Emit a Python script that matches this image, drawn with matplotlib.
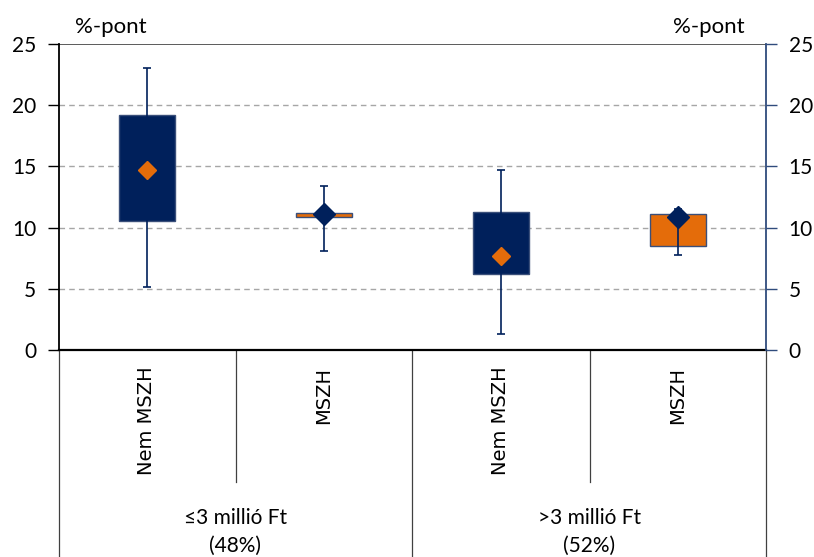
import matplotlib
matplotlib.use("Agg")
import matplotlib.pyplot as plt
import matplotlib.transforms as mtransforms


NAVY = "#00205B"
ORANGE = "#E46C0A"
GRID = "#A6A6A6"

CATEGORIES = ["Nem MSZH", "MSZH", "Nem MSZH", "MSZH"]
GROUPS = ["≤3 millió Ft\n(48%)", ">3 millió Ft\n(52%)"]
WHISKER_LOW = [5.15, 8.1, 1.3, 7.75]
BOX_LOW = [10.55, 10.85, 6.2, 8.5]
BOX_HIGH = [19.2, 11.2, 11.25, 11.1]
WHISKER_HIGH = [23.0, 13.4, 14.7, 11.55]
MEANS = [14.7, 11.1, 7.7, 10.9]
BOX_COLORS = [NAVY, ORANGE, NAVY, ORANGE]
MEAN_COLORS = [ORANGE, NAVY, ORANGE, NAVY]
Y_TICKS = [0, 5, 10, 15, 20, 25]

plt.rcParams["font.family"] = ["Lato", "DejaVu Sans"]

fig = plt.figure(figsize=(8.14, 5.57), dpi=100)
ax = fig.add_axes([58.5 / 814, 1 - 350 / 557, 708 / 814, 306 / 557])

x = list(range(len(CATEGORIES)))
ax.set_xlim(-0.5, len(CATEGORIES) - 0.5)
ax.set_ylim(0, 25)

for yv in Y_TICKS[1:-1]:
    ax.axhline(yv, color=GRID, linestyle=(0, (4, 3)), linewidth=1.0, zorder=0)
ax.axhline(25, color="#404040", linewidth=1.2, zorder=1)

for i in x:
    ax.bar(i, BOX_HIGH[i] - BOX_LOW[i], bottom=BOX_LOW[i], width=0.32,
           color=BOX_COLORS[i], edgecolor="#3A4F7A", linewidth=1.0, zorder=2)
    ax.vlines(i, WHISKER_LOW[i], WHISKER_HIGH[i], color=NAVY, linewidth=1.2, zorder=3)
    ax.hlines([WHISKER_LOW[i], WHISKER_HIGH[i]], i - 0.025, i + 0.025,
              color=NAVY, linewidth=1.2, zorder=3)
    ax.plot(i, MEANS[i], marker="D", markersize=9 if BOX_COLORS[i] == NAVY else 11,
            color=MEAN_COLORS[i], markeredgecolor=MEAN_COLORS[i], zorder=4)

ax.set_yticks(Y_TICKS)
ax.tick_params(axis="y", direction="out", length=8, width=1.0, labelsize=15,
               pad=8, colors="black")
ax.set_xticks([])
for side in ["top", "right", "bottom"]:
    ax.spines[side].set_visible(False)
ax.spines["left"].set_linewidth(1.3)
ax.axhline(0, color="black", linewidth=1.6, zorder=5, clip_on=False)

ax2 = ax.twinx()
ax2.set_ylim(0, 25)
ax2.set_yticks(Y_TICKS)
ax2.tick_params(axis="y", direction="out", length=8, width=1.0, labelsize=15,
                pad=8, color="#2F4B7C", labelcolor="black")
for side in ["top", "left", "bottom"]:
    ax2.spines[side].set_visible(False)
ax2.spines["right"].set_color("#2F4B7C")
ax2.spines["right"].set_linewidth(1.3)

fig.text(75 / 814, 1 - 27 / 557, "%-pont", fontsize=16, va="center", ha="left")
fig.text(745 / 814, 1 - 27 / 557, "%-pont", fontsize=16, va="center", ha="right")

# category table under the axis
trans = mtransforms.blended_transform_factory(ax.transData, ax.transAxes)
inner_bottom = (350 - 482) / 306
for xb in [0.5, 2.5]:
    ax.plot([xb, xb], [0, inner_bottom], color="#404040", linewidth=0.9,
            transform=trans, clip_on=False)
for xb in [-0.5, 1.5, 3.5]:
    ax.plot([xb, xb], [0, -1.0], color="#404040", linewidth=0.9,
            transform=trans, clip_on=False)

for i, label in enumerate(CATEGORIES):
    ax.text(i, -0.055, label, transform=trans, rotation=90, ha="center", va="top",
            fontsize=14, family="DejaVu Sans")

for g, label in enumerate(GROUPS):
    ax.text(2 * g + 0.5, (350 - 532) / 306, label, transform=trans, ha="center",
            va="center", fontsize=15, linespacing=1.5)

fig.savefig("out.png", dpi=100)
